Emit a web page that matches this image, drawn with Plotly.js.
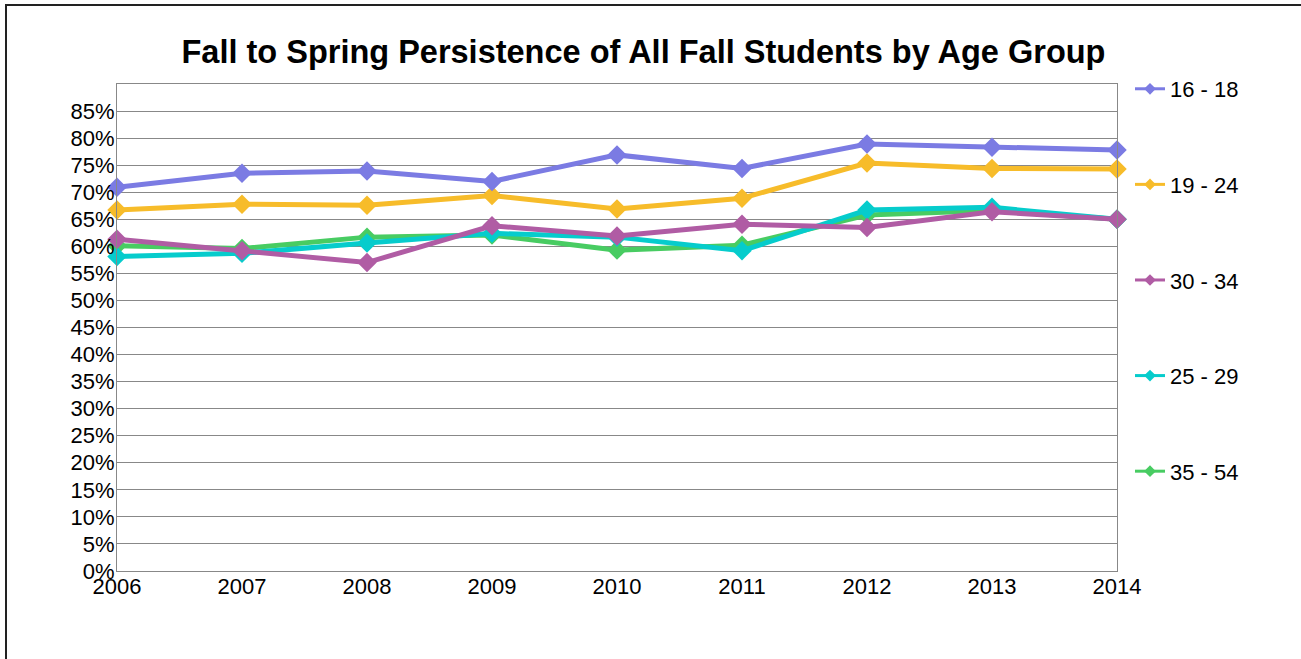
<!DOCTYPE html>
<html>
<head>
<meta charset="utf-8">
<script src="https://cdn.plot.ly/plotly-3.0.1.min.js"></script>
<style>
  html, body { margin: 0; padding: 0; background: #fff; }
  #wrap { position: relative; width: 1301px; height: 659px; overflow: hidden; }
  #chart { width: 1301px; height: 659px; }
  #frame { position: absolute; left: 5px; top: 4px; width: 1400px; height: 800px;
           border-left: 2px solid #222; border-top: 2px solid #222; pointer-events: none; }
</style>
</head>
<body>
<div id="wrap">
  <div id="chart"></div>
  <div id="frame"></div>
</div>
<script>
const years = [2006, 2007, 2008, 2009, 2010, 2011, 2012, 2013, 2014];
const seriesNames = ["16 - 18", "19 - 24", "30 - 34", "25 - 29", "35 - 54"];
const age16to18 = [0.709, 0.735, 0.739, 0.720, 0.769, 0.744, 0.789, 0.783, 0.778];
const age19to24 = [0.667, 0.678, 0.676, 0.694, 0.669, 0.689, 0.754, 0.744, 0.743];
const age30to34 = [0.613, 0.592, 0.570, 0.638, 0.619, 0.641, 0.635, 0.664, 0.650];
const age25to29 = [0.581, 0.587, 0.606, 0.624, 0.617, 0.592, 0.667, 0.672, 0.650];
const age35to54 = [0.601, 0.596, 0.617, 0.621, 0.593, 0.602, 0.658, 0.666, 0.650];
const yTickVals = [0, 0.05, 0.10, 0.15, 0.20, 0.25, 0.30, 0.35, 0.40, 0.45, 0.50, 0.55, 0.60, 0.65, 0.70, 0.75, 0.80, 0.85];
const yTickText = ["0%", "5%", "10%", "15%", "20%", "25%", "30%", "35%", "40%", "45%", "50%", "55%", "60%", "65%", "70%", "75%", "80%", "85%"];
const xTickText = ["2006", "2007", "2008", "2009", "2010", "2011", "2012", "2013", "2014"];

const colors = ["#7B7BE3", "#F7BC2A", "#B05CA4", "#06CCCC", "#48CC62"];
const allValues = [age16to18, age19to24, age30to34, age25to29, age35to54];

// data traces: draw order bottom to top as in reference (purple over cyan/green)
const drawOrder = [4, 3, 2, 1, 0];
const traces = drawOrder.map(function (i) {
  return {
    type: "scatter",
    mode: "lines+markers",
    x: years,
    y: allValues[i],
    name: seriesNames[i],
    showlegend: false,
    line: { color: colors[i], width: 5 },
    marker: { symbol: "diamond", size: 15, color: colors[i] },
    cliponaxis: false,
    hoverinfo: "skip"
  };
});

// legend entries (smaller symbols, as in the reference legend)
seriesNames.forEach(function (name, i) {
  traces.push({
    type: "scatter",
    mode: "lines+markers",
    x: [null],
    y: [null],
    name: name,
    legendgroup: "g" + i,
    legendrank: i + 1,
    showlegend: true,
    line: { color: colors[i], width: 3 },
    marker: { symbol: "diamond", size: 9, color: colors[i] }
  });
});

const layout = {
  width: 1301,
  height: 659,
  paper_bgcolor: "#ffffff",
  plot_bgcolor: "#ffffff",
  margin: { l: 117, r: 184, t: 84, b: 88 },
  font: { family: "Liberation Sans, Arial, sans-serif", size: 22, color: "#000" },
  title: {
    text: "<b>Fall to Spring Persistence of All Fall Students by Age Group</b>",
    font: { family: "Liberation Sans, Arial, sans-serif", size: 32.5, color: "#000" },
    x: 0.4946, xref: "container", xanchor: "center",
    y: 1 - 52 / 659, yref: "container", yanchor: "middle"
  },
  xaxis: {
    range: [2006, 2014],
    tickvals: years,
    ticktext: xTickText,
    showgrid: false,
    zeroline: false,
    showline: true, linecolor: "#888", linewidth: 1, mirror: true,
    ticks: "outside", ticklen: 0, tickcolor: "#888",
    ticklabelstandoff: -4,
    tickfont: { size: 22, color: "#000" },
    fixedrange: true
  },
  yaxis: {
    range: [0, 0.9],
    tickvals: yTickVals,
    ticktext: yTickText,
    showgrid: true, gridcolor: "#888", gridwidth: 1,
    zeroline: false,
    showline: true, linecolor: "#888", linewidth: 1, mirror: true,
    ticks: "outside", ticklen: 0, tickcolor: "#888",
    ticklabelstandoff: -3,
    tickfont: { size: 22, color: "#000" },
    fixedrange: true
  },
  showlegend: true,
  legend: {
    x: 1.013, xanchor: "left",
    y: 1.0329, yanchor: "top",
    traceorder: "grouped",
    tracegroupgap: 64,
    font: { size: 22, color: "#000" },
    bgcolor: "rgba(0,0,0,0)",
    itemsizing: "trace",
    itemwidth: 30,
    maxheight: 600
  }
};

Plotly.newPlot("chart", traces, layout, { displayModeBar: false, staticPlot: true });
</script>
</body>
</html>
